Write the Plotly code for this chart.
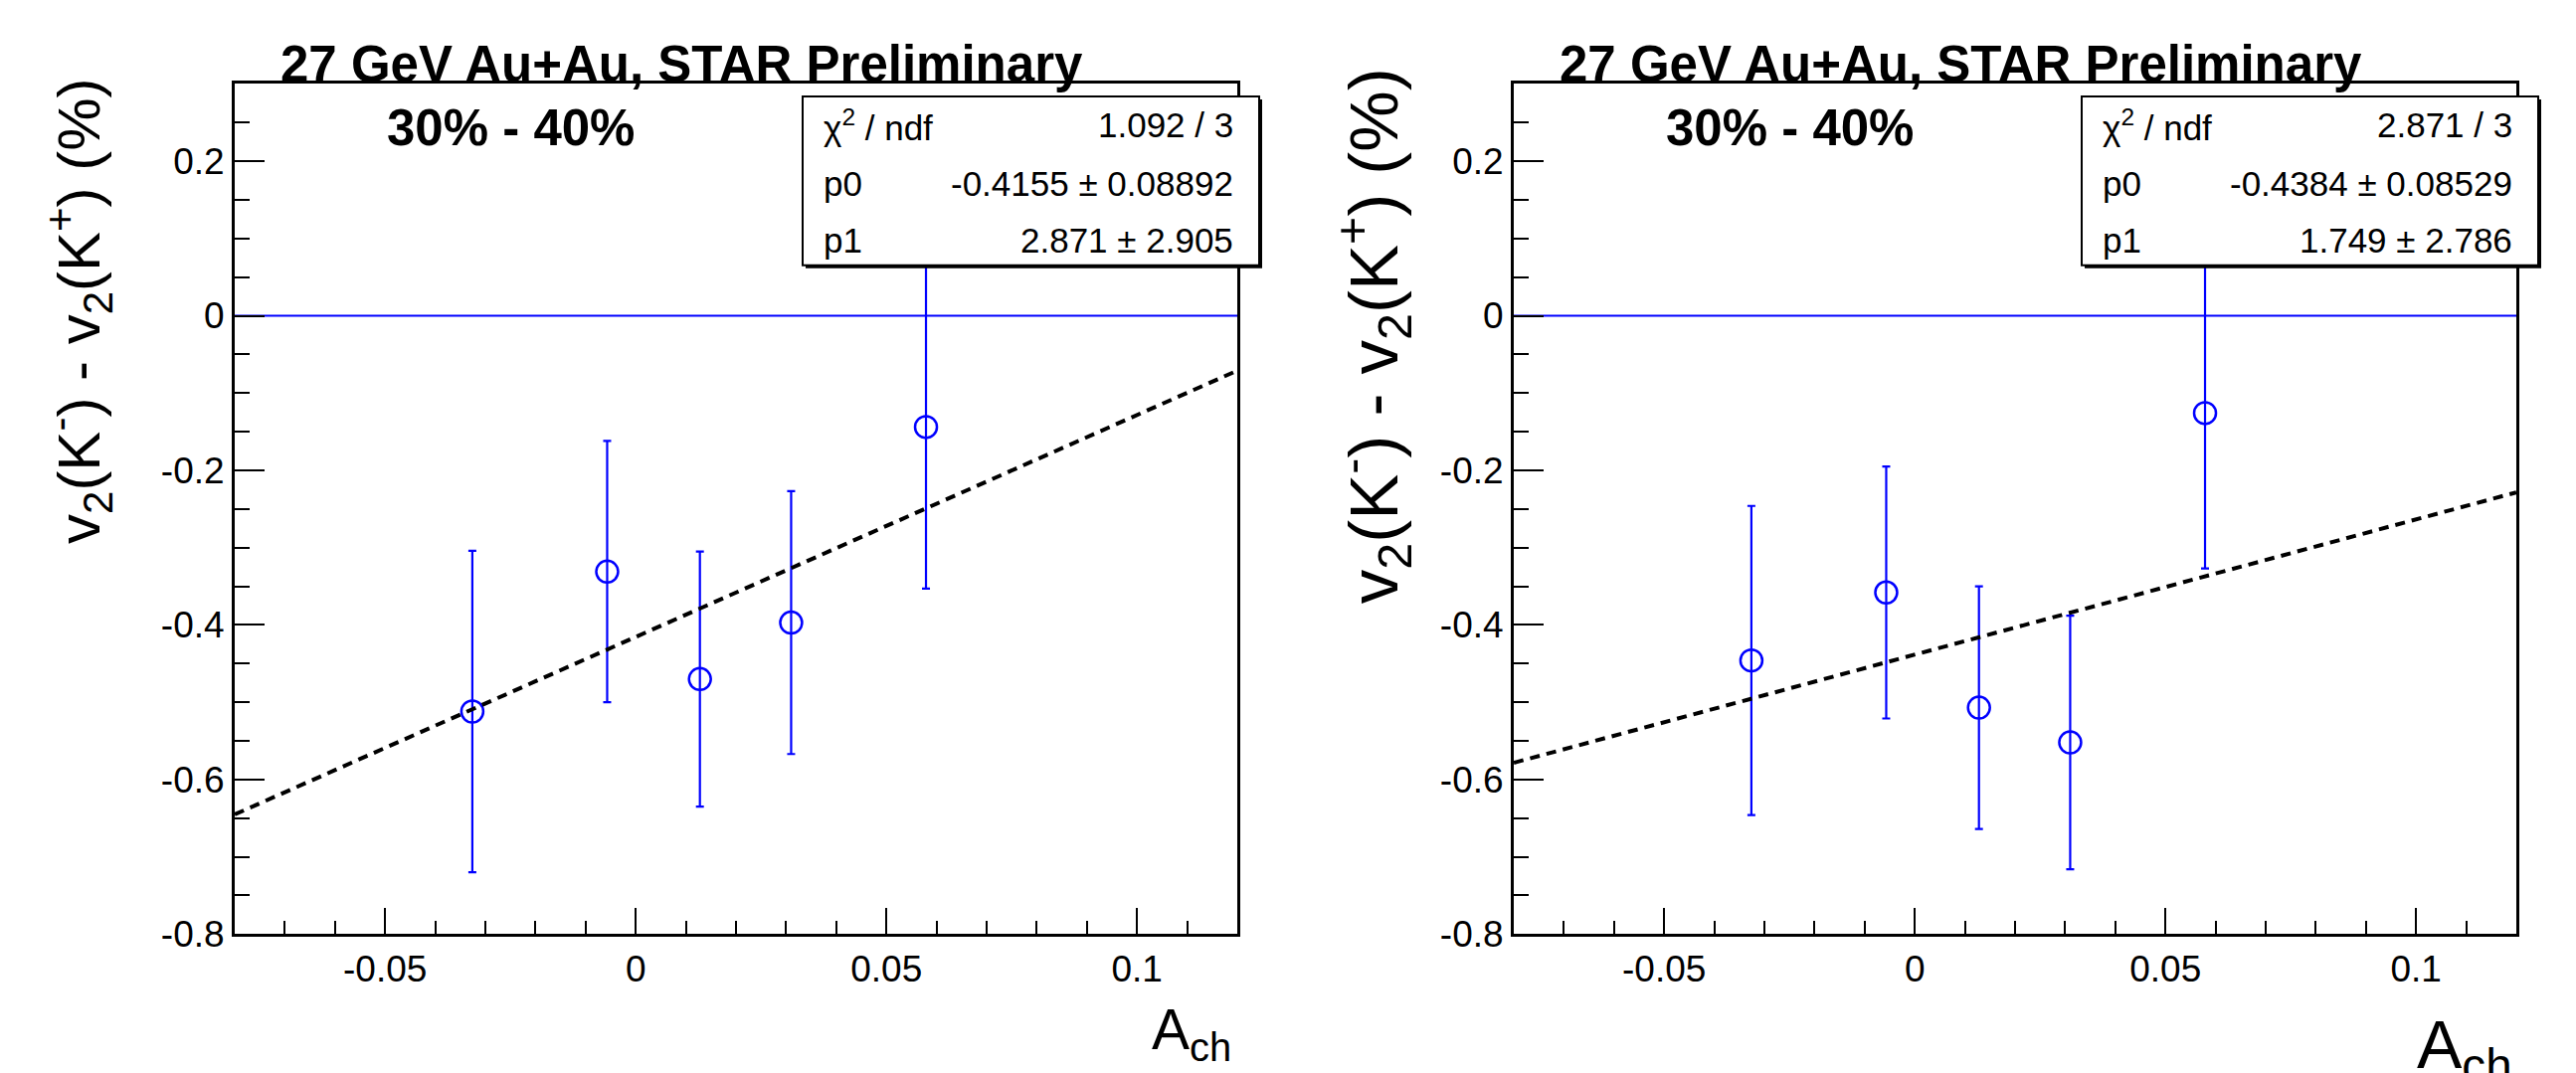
import plotly.graph_objects as go

W, H = 2590, 1079

# ---------------- data ----------------
ach = [-0.0326, -0.0057, 0.0128, 0.0310, 0.0579]

dv2_left = [-0.512, -0.331, -0.470, -0.397, -0.144]
err_left = [0.208, 0.169, 0.165, 0.170, 0.209]

dv2_right = [-0.446, -0.358, -0.507, -0.552, -0.126]
err_right = [0.200, 0.163, 0.157, 0.164, 0.201]

fit_p0 = [-0.4155, -0.4384]
fit_p1 = [2.871, 1.749]
stats_chi2 = ["1.092 / 3", "2.871 / 3"]
stats_p0 = ["-0.4155 ± 0.08892", "-0.4384 ± 0.08529"]
stats_p1 = ["2.871 ± 2.905", "1.749 ± 2.786"]

x_range = [-0.08, 0.12]
y_range = [-0.8, 0.3]
x_tickvals = [-0.05, 0, 0.05, 0.1]
x_ticktext = ["-0.05", "0", "0.05", "0.1"]
y_tickvals = [-0.8, -0.6, -0.4, -0.2, 0, 0.2]
y_ticktext = ["-0.8", "-0.6", "-0.4", "-0.2", "0", "0.2"]

title_text = "27 GeV Au+Au, STAR Preliminary"
cent_text = "30% - 40%"
ylabel = "v<sub>2</sub>(K<sup>-</sup>) - v<sub>2</sub>(K<sup>+</sup>) (%)"
xlabel = "A<sub>ch</sub>"

# ---------------- layout helpers ----------------
def px(x):
    return x / W

def py(y):
    return 1 - y / H

FONT = "Liberation Sans, Arial, Helvetica, sans-serif"
BLUE = "#0000ff"

panels = [
    dict(x0=236, x1=1244, xa="x", ya="y", dv2=dv2_left, err=err_left,
         ylab_x=80, ylab_top=78, ylab_size=60, xlab_right=1240, xlab_y=1060, xlab_size=57),
    dict(x0=1522, x1=2530, xa="x2", ya="y2", dv2=dv2_right, err=err_right,
         ylab_x=1380, ylab_top=68, ylab_size=69, xlab_right=2528, xlab_y=1076, xlab_size=68),
]
top_px, bot_px = 86, 958

fig = go.Figure()
annotations = []
shapes = []

for i, p in enumerate(panels):
    # data points with error bars
    fig.add_trace(go.Scatter(
        x=ach, y=p["dv2"], mode="markers", xaxis=p["xa"], yaxis=p["ya"],
        marker=dict(symbol="circle-open", size=22, color=BLUE, line=dict(width=2.5, color=BLUE)),
        error_y=dict(type="data", array=p["err"], symmetric=True, color=BLUE, thickness=2.2, width=4),
        showlegend=False, cliponaxis=True,
    ))
    # linear fit line
    fx = list(x_range)
    fy = [fit_p0[i] + fit_p1[i] * v for v in fx]
    fig.add_trace(go.Scatter(
        x=fx, y=fy, mode="lines", xaxis=p["xa"], yaxis=p["ya"],
        line=dict(color="black", width=4, dash="10px,7px"), showlegend=False,
    ))
    # zero line
    shapes.append(dict(type="line", xref=f"{p['xa']} domain", yref=p["ya"], x0=0, x1=1, y0=0, y1=0,
                       line=dict(color=BLUE, width=2.2), layer="below"))

    off = p["x0"] - 236
    # stats box (shadow + box)
    bx0, bx1, by0, by1 = 807 + off, 1266 + off, 99, 272
    shapes.append(dict(type="rect", xref="paper", yref="paper", x0=px(bx0 + 3), x1=px(bx1 + 3),
                       y0=py(by1 + 3), y1=py(by0 + 3), fillcolor="black", line=dict(width=0), layer="above"))
    shapes.append(dict(type="rect", xref="paper", yref="paper", x0=px(bx0), x1=px(bx1),
                       y0=py(by1), y1=py(by0), fillcolor="white", line=dict(color="black", width=2), layer="above"))
    rows = [("χ<sup>2</sup> / ndf", stats_chi2[i], 128), ("p0", stats_p0[i], 188), ("p1", stats_p1[i], 246)]
    for lab, val, yy in rows:
        annotations.append(dict(xref="paper", yref="paper", x=px(826 + off), y=py(yy), text=lab,
                                showarrow=False, xanchor="left", yanchor="middle",
                                font=dict(family=FONT, size=35, color="black")))
        annotations.append(dict(xref="paper", yref="paper", x=px(1242 + off), y=py(yy), text=val,
                                showarrow=False, xanchor="right", yanchor="middle",
                                font=dict(family=FONT, size=35, color="black")))
    # title
    annotations.append(dict(xref="paper", yref="paper", x=px(280 + off), y=py(66), text=f"<b>{title_text}</b>",
                            showarrow=False, xanchor="left", yanchor="middle",
                            font=dict(family=FONT, size=51, color="black")))
    # centrality
    annotations.append(dict(xref="paper", yref="paper", x=px(513 + off), y=py(131), text=f"<b>{cent_text}</b>",
                            showarrow=False, xanchor="center", yanchor="middle",
                            font=dict(family=FONT, size=51, color="black")))
    # y label
    annotations.append(dict(xref="paper", yref="paper", x=px(p["ylab_x"]), y=py(p["ylab_top"]), text=ylabel,
                            textangle=-90, showarrow=False, xanchor="center", yanchor="top",
                            font=dict(family=FONT, size=p["ylab_size"], color="black")))
    # x label
    annotations.append(dict(xref="paper", yref="paper", x=px(p["xlab_right"]), y=py(p["xlab_y"]), text=xlabel,
                            showarrow=False, xanchor="right", yanchor="middle",
                            font=dict(family=FONT, size=p["xlab_size"], color="black")))

axis_common = dict(showgrid=False, zeroline=False, showline=True, linecolor="black", linewidth=3,
                   mirror=True, ticks="inside", tickcolor="black", tickwidth=2,
                   tickfont=dict(family=FONT, size=37, color="black"))

layout = dict(
    width=W, height=H, margin=dict(l=0, r=0, t=0, b=0),
    paper_bgcolor="white", plot_bgcolor="white", showlegend=False,
    annotations=annotations, shapes=shapes,
)
for j, p in enumerate(panels):
    sx = "" if j == 0 else "2"
    layout[f"xaxis{sx}"] = dict(
        axis_common, domain=[px(p["x0"]), px(p["x1"])], range=x_range, anchor=f"y{sx}",
        tickmode="array", tickvals=x_tickvals, ticktext=x_ticktext, ticklen=26,
        minor=dict(dtick=0.01, tick0=0, ticks="inside", ticklen=13, tickwidth=2, tickcolor="black", showgrid=False),
    )
    layout[f"yaxis{sx}"] = dict(
        axis_common, domain=[py(bot_px), py(top_px)], range=y_range, anchor=f"x{sx}",
        tickmode="array", tickvals=y_tickvals, ticktext=y_ticktext, ticklen=30,
        minor=dict(dtick=0.05, tick0=0, ticks="inside", ticklen=15, tickwidth=2, tickcolor="black", showgrid=False),
    )

fig.update_layout(**layout)
fig.write_html("out.html", config={"displayModeBar": False},
               post_script="document.body.style.margin='0';document.body.style.overflow='hidden';")
